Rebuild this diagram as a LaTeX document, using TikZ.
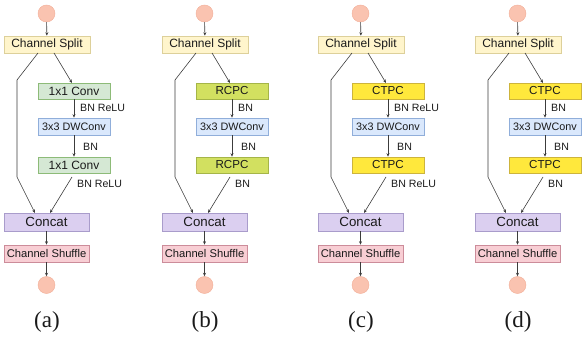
\documentclass[tikz,border=0pt]{standalone}
\usepackage{fontspec}
\setmainfont{Liberation Sans}
\newfontfamily\capfont{Liberation Serif}
\usetikzlibrary{arrows.meta}
\definecolor{splitF}{HTML}{FFF5CC}
\definecolor{splitD}{HTML}{DDD09A}
\definecolor{convF}{HTML}{D5E8D4}
\definecolor{convD}{HTML}{8DBB78}
\definecolor{dwF}{HTML}{DAE8FC}
\definecolor{dwD}{HTML}{90AEDA}
\definecolor{rcpcF}{HTML}{D2E060}
\definecolor{rcpcD}{HTML}{A5B548}
\definecolor{ctpcF}{HTML}{FFE83C}
\definecolor{ctpcD}{HTML}{CDB43C}
\definecolor{catF}{HTML}{DBCFF0}
\definecolor{catD}{HTML}{A99CCB}
\definecolor{shufF}{HTML}{F8CED4}
\definecolor{shufD}{HTML}{CC8C9A}
\definecolor{circF}{HTML}{FAC3B0}
\definecolor{circD}{HTML}{F2AE98}
\definecolor{ink}{HTML}{1A1A1A}
\tikzset{
  box/.style={draw, line width=0.6pt, inner sep=0pt, text=ink},
  splitbox/.style={box, fill=splitF, draw=splitD, minimum width=86pt, minimum height=17pt, font=\fontsize{12}{12}\selectfont},
  convbox/.style={box, fill=convF, draw=convD, minimum width=72pt, minimum height=16pt, font=\fontsize{12}{12}\selectfont},
  rcpcbox/.style={box, fill=rcpcF, draw=rcpcD, minimum width=72pt, minimum height=16pt, font=\fontsize{11.6}{11.6}\selectfont},
  ctpcbox/.style={box, fill=ctpcF, draw=ctpcD, minimum width=72pt, minimum height=16pt, font=\fontsize{11.6}{11.6}\selectfont},
  dwbox/.style={box, fill=dwF, draw=dwD, minimum width=72pt, minimum height=17pt, font=\fontsize{10.8}{10.8}\selectfont},
  catbox/.style={box, fill=catF, draw=catD, minimum width=85pt, minimum height=18pt, font=\fontsize{13.3}{13.3}\selectfont},
  shufbox/.style={box, fill=shufF, draw=shufD, minimum width=85pt, minimum height=17pt, font=\fontsize{11.2}{11.2}\selectfont},
  ball/.style={circle, fill=circF, draw=circD, line width=0.4pt, minimum size=17pt, inner sep=0pt},
  lbl/.style={anchor=west, inner sep=0pt, text=ink, font=\fontsize{10.6}{10.6}\selectfont},
  capt/.style={inner sep=0pt, text=ink, font=\capfont\fontsize{23}{23}\selectfont},
  conn/.style={draw=ink!85, line width=0.6pt, -{Stealth[length=3.5pt,width=3pt]}}
}
% #1 prefix, #2 x offset, #3 box style, #4 box text, #5 #6 #7 labels, #8 caption
\newcommand{\drawpanel}[8]{%
  \begin{scope}[xshift=#2pt]
    \node[ball] (#1in) at (46.5,13.5) {};
    \node[splitbox] (#1split) at (47,44.5) {Channel Split};
    \node[#3] (#1b1) at (74,91) {#4};
    \node[dwbox] (#1dw) at (74,126.5) {3x3 DWConv};
    \node[#3] (#1b2) at (74,165) {#4};
    \node[catbox] (#1cat) at (46.5,222) {Concat};
    \node[shufbox] (#1shuf) at (46.5,253.5) {Channel Shuffle};
    \node[ball] (#1out) at (46.5,285) {};
    \node[capt] (#1cap) at (47,322) {(#8)};
    \coordinate (#1ls) at (38,53);
    \coordinate (#1l1) at (17,80);
    \coordinate (#1l2) at (17,177);
    \coordinate (#1le) at (35,213);
    \coordinate (#1rs) at (54,53);
    \coordinate (#1re) at (72,83);
    \coordinate (#1bs) at (72,177);
    \coordinate (#1be) at (50,213);
    \draw[conn] (#1in) -- (#1split);
    \draw[conn] (#1ls) -- (#1l1) -- (#1l2) -- (#1le);
    \draw[conn] (#1rs) -- (#1re);
    \draw[conn] (#1b1) -- (#1dw);
    \draw[conn] (#1dw) -- (#1b2);
    \draw[conn] (#1bs) -- (#1be);
    \draw[conn] (#1cat) -- (#1shuf);
    \draw[conn] (#1shuf) -- (#1out);
    \node[lbl] (#1t1) at (80,108) {#5};
    \node[lbl] (#1t2) at (83,147) {#6};
    \node[lbl] (#1t3) at (77,184) {#7};
  \end{scope}}
\begin{document}
\begin{tikzpicture}[x=1pt,y=-1pt]
  \useasboundingbox (0,0) rectangle (587,337);
  \drawpanel{a}{0}{convbox}{1x1 Conv}{BN ReLU}{BN}{BN ReLU}{a}
  \drawpanel{b}{158}{rcpcbox}{RCPC}{BN}{BN}{BN}{b}
  \drawpanel{c}{314}{ctpcbox}{CTPC}{BN ReLU}{BN}{BN ReLU}{c}
  \drawpanel{d}{471}{ctpcbox}{CTPC}{BN}{BN}{BN}{d}
\end{tikzpicture}
\end{document}
